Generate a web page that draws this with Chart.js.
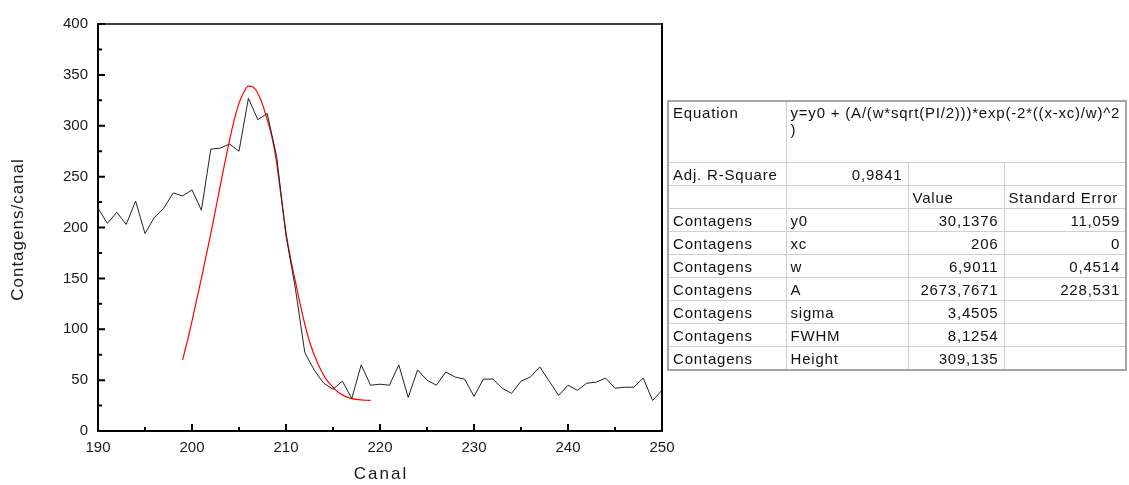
<!DOCTYPE html>
<html>
<head>
<meta charset="utf-8">
<title>Contagens/canal</title>
<script src="https://cdn.jsdelivr.net/npm/chart.js@4.4.1/dist/chart.umd.min.js"></script>
<style>
  body { margin: 0; background: #fff; width: 1129px; height: 485px; overflow: hidden; position: relative; font-family: "Liberation Sans", Arial, sans-serif; }
  #chart { position: absolute; left: 0; top: 0; }
  #fit { position: absolute; left: 667px; top: 100px; width: 458px; border-collapse: collapse; table-layout: fixed;
         border: 2px solid #a4a4a4; font-size: 15px; letter-spacing: 0.8px; color: #111; }
  #fit td { border: 1px solid #cfcfcf; padding: 0 5px 0 4px; height: 22px; line-height: 17px; white-space: nowrap; overflow: visible; }
  #fit td.num { text-align: right; }
  #fit tr.eq td { height: 58px; vertical-align: top; padding-top: 2px; }
</style>
</head>
<body>
<canvas id="chart" width="1129" height="485"></canvas>
<table id="fit">
  <colgroup><col style="width:118px"><col style="width:122px"><col style="width:96px"><col style="width:122px"></colgroup>
  <tbody id="fitBody"></tbody>
</table>
<script>
// channel numbers and measured counts (black line)
const canal = [190, 191, 192, 193, 194, 195, 196, 197, 198, 199,
  200, 201, 202, 203, 204, 205, 206, 207, 208, 209,
  210, 211, 212, 213, 214, 215, 216, 217, 218, 219,
  220, 221, 222, 223, 224, 225, 226, 227, 228, 229,
  230, 231, 232, 233, 234, 235, 236, 237, 238, 239,
  240, 241, 242, 243, 244, 245, 246, 247, 248, 249, 250];
const contagens = [219, 204, 215, 203, 226, 194, 210, 219, 234, 231,
  237, 217, 277, 278, 282, 275, 327, 306, 312, 270,
  192, 140, 77, 60, 47, 41, 49, 32, 65, 45,
  46, 45, 65, 33, 60, 50, 45, 58, 53, 51,
  34, 51, 51, 42, 37, 49, 53, 63, 49, 35,
  45, 40, 47, 48, 52, 42, 43, 43, 52, 30, 40];

// gaussian fit curve (red line)
const fitCanal = [199, 199.5, 200, 200.5, 201, 201.5, 202, 202.5, 203, 203.5,
  204, 204.5, 205, 205.5, 206, 206.5, 207, 207.5, 208, 208.5,
  209, 209.5, 210, 210.5, 211, 211.5, 212, 212.5, 213, 213.5,
  214, 214.5, 215, 215.5, 216, 216.5, 217, 217.5, 218, 218.5, 219];
const fitValues = [70, 88, 108, 129, 150, 172, 194, 217, 241, 264,
  286, 306, 322, 333, 339, 338, 332, 321, 306, 289,
  264, 229, 195, 169, 147, 125, 105, 88, 75, 64,
  55, 48, 43, 38.5, 35.5, 33.3, 31.8, 31, 30.5, 30.2, 30.1];

// axis ticks
const xTicks = [190, 200, 210, 220, 230, 240, 250];
const xMinor = [195, 205, 215, 225, 235, 245];
const yTicks = [0, 50, 100, 150, 200, 250, 300, 350, 400];
const yMinor = [25, 75, 125, 175, 225, 275, 325, 375];
const xTitle = 'Canal';
const yTitle = 'Contagens/canal';

// fit result table
const eqText = 'y=y0 + (A/(w*sqrt(PI/2)))*exp(-2*((x-xc)/w)^2';
const adjR2 = '0,9841';
const fitHeader = ['', '', 'Value', 'Standard Error'];
const fitRows = [
  ['Contagens', 'y0', '30,1376', '11,059'],
  ['Contagens', 'xc', '206', '0'],
  ['Contagens', 'w', '6,9011', '0,4514'],
  ['Contagens', 'A', '2673,7671', '228,531'],
  ['Contagens', 'sigma', '3,4505', ''],
  ['Contagens', 'FWHM', '8,1254', ''],
  ['Contagens', 'Height', '309,135', '']
];

function buildTable() {
  const body = document.getElementById('fitBody');
  let html = '<tr class="eq"><td>Equation</td><td colspan="3">' + eqText + '<br>)</td></tr>';
  html += '<tr><td>Adj. R-Square</td><td class="num">' + adjR2 + '</td><td></td><td></td></tr>';
  html += '<tr>' + fitHeader.map(h => '<td>' + h + '</td>').join('') + '</tr>';
  fitRows.forEach(r => {
    html += '<tr><td>' + r[0] + '</td><td>' + r[1] + '</td><td class="num">' + r[2] + '</td><td class="num">' + r[3] + '</td></tr>';
  });
  body.innerHTML = html;
}
buildTable();

// frame with inward ticks, plus letter-spaced axis titles
const frame = {
  id: 'frame',
  afterDatasetsDraw(chart) {
    const { ctx, chartArea: a, scales: { x, y } } = chart;
    ctx.save();
    ctx.strokeStyle = '#000';
    ctx.lineCap = 'square';
    ctx.lineWidth = 2;
    ctx.beginPath();
    ctx.moveTo(a.left, a.top);
    ctx.lineTo(a.left, a.bottom);
    ctx.lineTo(a.right, a.bottom);
    ctx.lineTo(a.right, a.top);
    ctx.stroke();
    ctx.lineWidth = 1.5;
    ctx.beginPath();
    ctx.moveTo(a.left, a.top);
    ctx.lineTo(a.right, a.top);
    ctx.stroke();

    ctx.lineWidth = 2;
    ctx.lineCap = 'butt';
    ctx.beginPath();
    xTicks.forEach(v => { const p = x.getPixelForValue(v); ctx.moveTo(p, a.bottom); ctx.lineTo(p, a.bottom - 7); });
    xMinor.forEach(v => { const p = x.getPixelForValue(v); ctx.moveTo(p, a.bottom); ctx.lineTo(p, a.bottom - 4); });
    yTicks.forEach(v => { const p = y.getPixelForValue(v); ctx.moveTo(a.left, p); ctx.lineTo(a.left + 7, p); });
    yMinor.forEach(v => { const p = y.getPixelForValue(v); ctx.moveTo(a.left, p); ctx.lineTo(a.left + 4, p); });
    ctx.stroke();

    ctx.fillStyle = '#1a1a1a';
    ctx.textAlign = 'center';
    ctx.textBaseline = 'middle';
    ctx.font = '17px "Liberation Sans", Arial, sans-serif';
    ctx.letterSpacing = '2px';
    ctx.fillText(xTitle, (a.left + a.right) / 2 + 1, 474);
    ctx.letterSpacing = '1px';
    ctx.translate(18, (a.top + a.bottom) / 2 + 2);
    ctx.rotate(-Math.PI / 2);
    ctx.fillText(yTitle, 0, 0);
    ctx.restore();
  }
};

Chart.defaults.font.family = '"Liberation Sans", Arial, sans-serif';
Chart.defaults.color = '#1a1a1a';

new Chart(document.getElementById('chart'), {
  type: 'line',
  data: {
    datasets: [
      {
        label: 'Contagens',
        data: canal.map((c, i) => ({ x: c, y: contagens[i] })),
        borderColor: '#222',
        borderWidth: 1,
        pointRadius: 0,
        tension: 0
      },
      {
        label: 'Fit',
        data: fitCanal.map((c, i) => ({ x: c, y: fitValues[i] })),
        borderColor: '#ff0000',
        borderWidth: 1.2,
        pointRadius: 0,
        cubicInterpolationMode: 'monotone'
      }
    ]
  },
  options: {
    responsive: false,
    animation: false,
    layout: { padding: { left: 0, top: 24, right: 1129 - 662, bottom: 0 } },
    plugins: {
      legend: { display: false },
      tooltip: { enabled: false }
    },
    scales: {
      x: {
        type: 'linear',
        min: 190,
        max: 250,
        afterBuildTicks: s => { s.ticks = xTicks.map(v => ({ value: v })); },
        afterFit: s => { s.height = 54; },
        grid: { display: false, drawTicks: false },
        border: { display: false },
        ticks: { font: { size: 15 }, padding: 8, maxRotation: 0, autoSkip: false }
      },
      y: {
        min: 0,
        max: 400,
        afterBuildTicks: s => { s.ticks = yTicks.map(v => ({ value: v })); },
        afterFit: s => { s.width = 98; },
        grid: { display: false, drawTicks: false },
        border: { display: false },
        ticks: { font: { size: 15 }, padding: 10, autoSkip: false }
      }
    }
  },
  plugins: [frame]
});
</script>
</body>
</html>
